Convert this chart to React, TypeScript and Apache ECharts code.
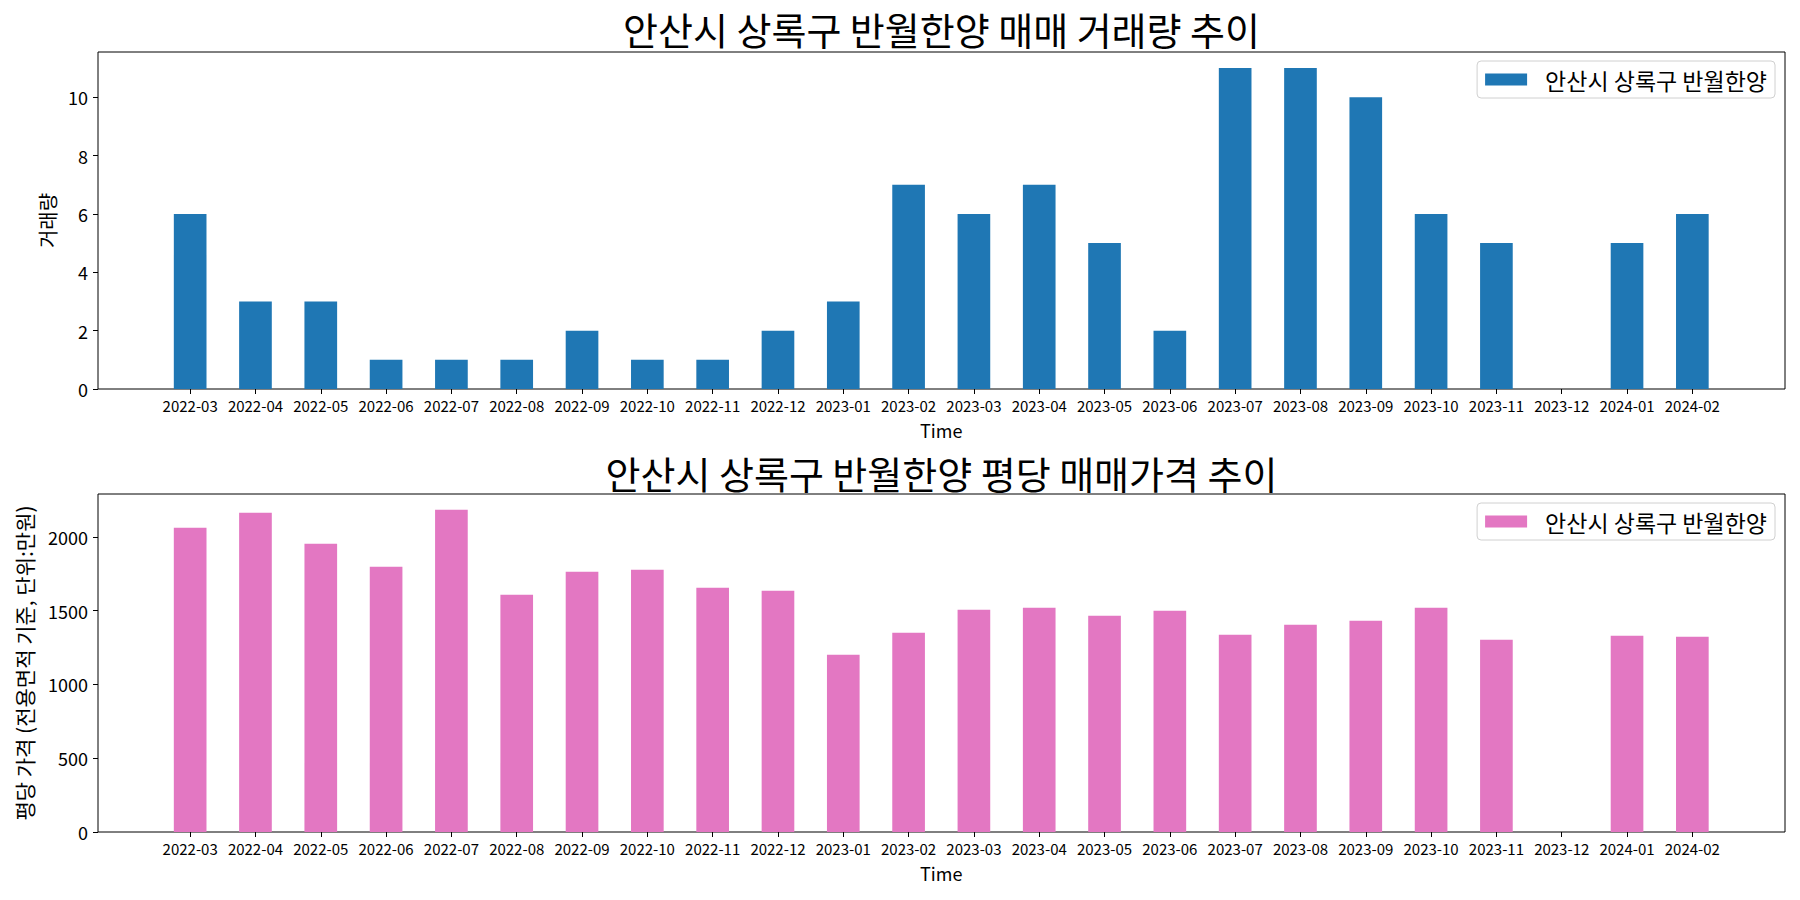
import React, { useEffect, useRef } from "react";
import * as echarts from "echarts";

const months = [
  "2022-03", "2022-04", "2022-05", "2022-06", "2022-07", "2022-08", "2022-09", "2022-10",
  "2022-11", "2022-12", "2023-01", "2023-02", "2023-03", "2023-04", "2023-05", "2023-06",
  "2023-07", "2023-08", "2023-09", "2023-10", "2023-11", "2023-12", "2024-01", "2024-02",
];
const volumes = [6, 3, 3, 1, 1, 1, 2, 1, 1, 2, 3, 7, 6, 7, 5, 2, 11, 11, 10, 6, 5, 0, 5, 6];
const prices = [
  2061, 2163, 1953, 1797, 2183, 1607, 1763, 1777, 1655, 1634, 1201, 1350,
  1506, 1519, 1465, 1499, 1336, 1404, 1431, 1519, 1302, null, 1330, 1323,
];
const volumeTicks = [0, 2, 4, 6, 8, 10];
const priceTicks = [0, 500, 1000, 1500, 2000];
const seriesName = "안산시 상록구 반월한양";
const title1 = "안산시 상록구 반월한양 매매 거래량 추이";
const title2 = "안산시 상록구 반월한양 평당 매매가격 추이";
const yName1 = "거래량";
const yName2 = "평당 가격 (전용면적 기준, 단위:만원)";
const xName = "Time";

const FONT = "'Noto Sans CJK KR', 'Noto Sans', sans-serif";
const BLUE = "#1f77b4";
const PINK = "#e377c2";

export default function App() {
  const ref = useRef<HTMLDivElement>(null);
  useEffect(() => {
    document.body.style.margin = "0";
    const chart = echarts.init(ref.current!, null, { renderer: "svg" });
    const frameTop = 52, frameH = 337;
    const frameTop2 = 494, frameH2 = 338;
    const barLeft = 157.5, barRight = 75;
    const volMax = 11.55, priceMax = 2290;

    const frameGrid = (top: number, h: number) => ({
      left: 98, right: 15, top, height: h, show: true,
      borderColor: "#000", borderWidth: 1, backgroundColor: "transparent",
    });
    const barGrid = (top: number, h: number) => ({ left: barLeft, right: barRight, top, height: h });

    const catAxis = (gridIndex: number) => ({
      gridIndex, type: "category", data: months, boundaryGap: true,
      axisLine: { show: false },
      axisTick: { show: true, alignWithLabel: true, length: 5, lineStyle: { color: "#000" } },
      axisLabel: { interval: 0, fontSize: 15, color: "#000", fontFamily: FONT, margin: 9 },
      name: xName, nameLocation: "middle", nameGap: 32,
      nameTextStyle: { fontSize: 18, color: "#000", fontFamily: FONT },
    });
    const valAxis = (gridIndex: number, max: number, ticks: number[], name: string, nameGap: number, nameSize: number) => ({
      gridIndex, type: "value", min: 0, max,
      axisLine: { show: false },
      splitLine: { show: false },
      axisTick: { show: true, length: 5, customValues: ticks, lineStyle: { color: "#000" } },
      axisLabel: { customValues: ticks, fontSize: 18, color: "#000", fontFamily: FONT, margin: 10,
        formatter: (v: number) => String(v) },
      name, nameLocation: "middle", nameGap,
      nameTextStyle: { fontSize: nameSize, color: "#000", fontFamily: FONT },
    });
    const hiddenVal = (gridIndex: number, max: number) => ({ gridIndex, type: "value", min: 0, max, show: false });

    const legend = (top: number, color: string) => ({
      right: 25, top, orient: "vertical",
      data: [{ name: seriesName, itemStyle: { color } }],
      itemWidth: 42, itemHeight: 12,
      borderColor: "#d0d0d0", borderWidth: 1, borderRadius: 4,
      padding: [7, 8, 7, 8],
      backgroundColor: "rgba(255,255,255,0.8)",
      selectedMode: false,
      textStyle: { fontSize: 23, color: "#000", fontFamily: FONT, padding: [0, 0, 0, 13] },
      icon: "rect",
    });

    chart.setOption({
      animation: false,
      title: [
        { text: title1, left: 941.5, textAlign: "center", top: 8, padding: 0,
          textStyle: { fontSize: 38, lineHeight: 40, fontWeight: "normal", color: "#000", fontFamily: FONT } },
        { text: title2, left: 941.5, textAlign: "center", top: 452, padding: 0,
          textStyle: { fontSize: 38, lineHeight: 40, fontWeight: "normal", color: "#000", fontFamily: FONT } },
      ],
      legend: [legend(61, BLUE), legend(503, PINK)],
      grid: [frameGrid(frameTop, frameH), barGrid(frameTop, frameH), frameGrid(frameTop2, frameH2), barGrid(frameTop2, frameH2)],
      xAxis: [
        { gridIndex: 0, type: "value", show: false, min: 0, max: 1 },
        catAxis(1),
        { gridIndex: 2, type: "value", show: false, min: 0, max: 1 },
        catAxis(3),
      ],
      yAxis: [
        valAxis(0, volMax, volumeTicks, yName1, 40, 20),
        hiddenVal(1, volMax),
        valAxis(2, priceMax, priceTicks, yName2, 64, 21),
        hiddenVal(3, priceMax),
      ],
      series: [
        { name: seriesName, type: "bar", xAxisIndex: 1, yAxisIndex: 1, data: volumes,
          barWidth: "50%", itemStyle: { color: BLUE } },
        { name: seriesName, type: "bar", xAxisIndex: 3, yAxisIndex: 3, data: prices,
          barWidth: "50%", itemStyle: { color: PINK } },
      ],
    });
    return () => chart.dispose();
  }, []);
  return <div ref={ref} style={{ width: 1800, height: 900 }} />;
}
